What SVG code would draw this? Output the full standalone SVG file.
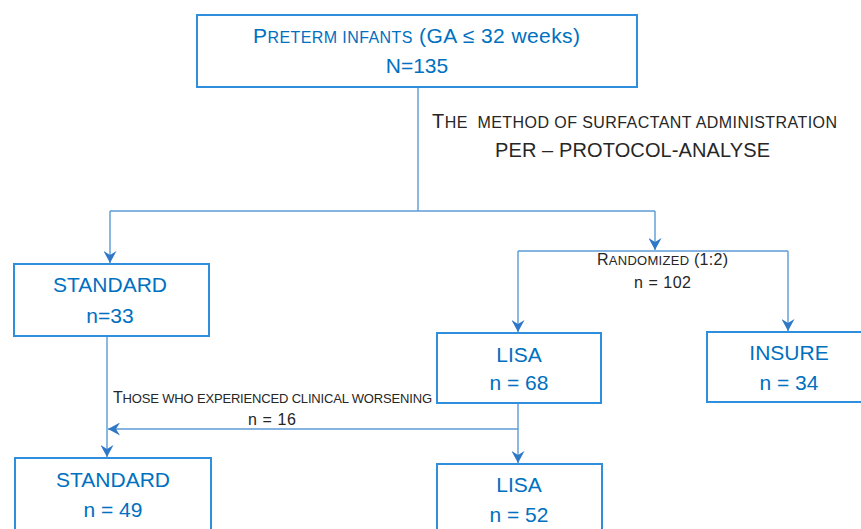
<svg xmlns="http://www.w3.org/2000/svg" width="861" height="529" viewBox="0 0 861 529">
<style>
.box{fill:#fff;stroke:#2F8FDD;stroke-width:2}
.bt{font-family:"Liberation Sans",Arial,sans-serif;font-size:21px;fill:#0070C0;text-anchor:middle}
.lbl{font-family:"Liberation Sans",Arial,sans-serif;fill:#262626}
.ln{fill:none;stroke:#5B9BD5;stroke-width:1.4}
</style>
<defs>
<marker id="ah" viewBox="0 0 12 13" refX="12" refY="6.5" markerWidth="12" markerHeight="13" markerUnits="userSpaceOnUse" orient="auto">
<path d="M0,0 L12,6.5 L0,13 L4,6.5 Z" fill="#2F78C8"/>
</marker>
</defs>
<rect width="861" height="529" fill="#fff"/>
<g id="connectors">
<path class="ln" d="M418,87 V211"/>
<path class="ln" d="M110,211 H655"/>
<path class="ln" d="M110,211 V263" marker-end="url(#ah)"/>
<path class="ln" d="M655,211 V250" marker-end="url(#ah)"/>
<path class="ln" d="M518,251 H788"/>
<path class="ln" d="M518,251 V332" marker-end="url(#ah)"/>
<path class="ln" d="M788,251 V331" marker-end="url(#ah)"/>
<path class="ln" d="M107,336 V457" marker-end="url(#ah)"/>
<path class="ln" d="M518,403 V463" marker-end="url(#ah)"/>
<path class="ln" d="M518,429 H108" marker-end="url(#ah)"/>
</g>
<g id="labels">
<text class="lbl" x="432" y="128" textLength="405" lengthAdjust="spacing" style="white-space:pre"><tspan font-size="20">T</tspan><tspan font-size="16">HE  METHOD OF SURFACTANT ADMINISTRATION</tspan></text>
<text class="lbl" x="495" y="157" font-size="20" textLength="275" lengthAdjust="spacing">PER – PROTOCOL-ANALYSE</text>
<text class="lbl" x="597" y="265" textLength="131" lengthAdjust="spacing"><tspan font-size="16">R</tspan><tspan font-size="13">ANDOMIZED</tspan><tspan font-size="16"> (1:2)</tspan></text>
<text class="lbl" x="634" y="288" font-size="16" textLength="57" lengthAdjust="spacing">n = 102</text>
<text class="lbl" x="113" y="403" textLength="319" lengthAdjust="spacing"><tspan font-size="16">T</tspan><tspan font-size="13">HOSE WHO EXPERIENCED CLINICAL WORSENING</tspan></text>
<text class="lbl" x="248" y="425" font-size="16" textLength="48" lengthAdjust="spacing">n = 16</text>
</g>
<g id="node-preterm">
<rect class="box" x="197" y="15" width="440" height="72"/>
<text class="bt" x="253" y="43" style="text-anchor:start" textLength="327" lengthAdjust="spacing"><tspan font-size="21">P</tspan><tspan font-size="16">RETERM INFANTS</tspan><tspan font-size="21"> (GA ≤ 32 weeks)</tspan></text>
<text class="bt" x="417" y="73">N=135</text>
</g>
<g id="node-standard1">
<rect class="box" x="14" y="264" width="195" height="72"/>
<text class="bt" x="110" y="292">STANDARD</text>
<text class="bt" x="110" y="323">n=33</text>
</g>
<g id="node-lisa1">
<rect class="box" x="437" y="333" width="164" height="70"/>
<text class="bt" x="519" y="362">LISA</text>
<text class="bt" x="519" y="390">n = 68</text>
</g>
<g id="node-insure">
<rect class="box" x="707" y="332" width="164" height="70"/>
<text class="bt" x="789" y="360">INSURE</text>
<text class="bt" x="789" y="390">n = 34</text>
</g>
<g id="node-standard2">
<rect class="box" x="15" y="458" width="196" height="82"/>
<text class="bt" x="113" y="487">STANDARD</text>
<text class="bt" x="113" y="517">n = 49</text>
</g>
<g id="node-lisa2">
<rect class="box" x="437" y="464" width="165" height="76"/>
<text class="bt" x="519" y="492">LISA</text>
<text class="bt" x="519" y="522">n = 52</text>
</g>
</svg>
